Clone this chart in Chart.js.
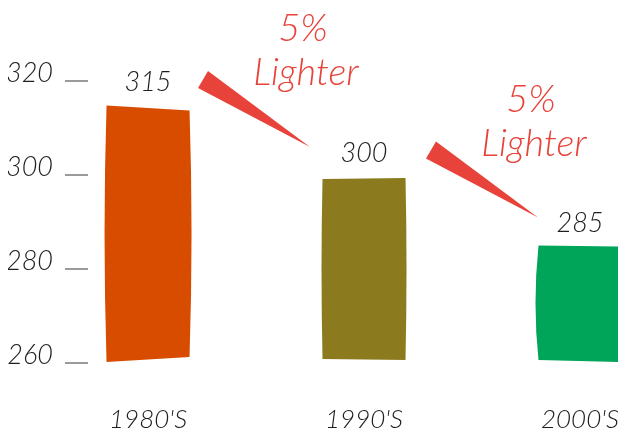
<!DOCTYPE html>
<html>
<head>
<meta charset="utf-8">
<script src="https://cdn.jsdelivr.net/npm/chart.js@4"></script>
<style>
  html, body { margin: 0; padding: 0; background: #fff; }
  #wrap { width: 618px; height: 439px; }
</style>
</head>
<body>
<div id="wrap"><canvas id="chart"></canvas></div>
<script>
// data
const categories = ["1980'S", "1990'S", "2000'S"];
const weights = [315, 300, 285];
const yTicks = [260, 280, 300, 320];
const noteLines = ['5%', 'Lighter'];   // drawn between each pair of decades

// styles
const barColors = ['#d84c00', '#8b7b1e', '#00a55a'];
const noteColor = '#e8433a';
const inkColor = '#1e1e1e';
const handFont = '"Lato", "Open Sans", sans-serif';
// hand-drawn feel: [top-left dy, top-right dy, bottom-left dy, bottom-right dy, left bow, right bow]
const wobble = [
    [1, 6, 0, -5, -2, 2],
    [4, 3, -3, -2, -1, 1],
    [0, 1, -2, 0, -3, 1]
];
// per note nudge in px
const noteShift = [-6, 6];

const handBars = {
    id: 'handBars',
    beforeDatasetsDraw(chart) {
        const ctx = chart.ctx;
        const meta = chart.getDatasetMeta(0);
        meta.data.forEach((bar, i) => {
            const w = wobble[i];
            const l = bar.x - bar.width / 2;
            const r = bar.x + bar.width / 2;
            const midY = (bar.y + bar.base) / 2;
            ctx.save();
            ctx.fillStyle = barColors[i];
            ctx.beginPath();
            ctx.moveTo(l, bar.y + w[0]);
            ctx.lineTo(r, bar.y + w[1]);
            ctx.quadraticCurveTo(r + w[5] * 2, midY, r, bar.base + w[3]);
            ctx.lineTo(l, bar.base + w[2]);
            ctx.quadraticCurveTo(l + w[4] * 2, midY, l, bar.y + w[0]);
            ctx.closePath();
            ctx.fill();

            // value above the bar
            ctx.fillStyle = inkColor;
            ctx.font = 'italic 300 27px ' + handFont;
            ctx.textAlign = 'center';
            ctx.textBaseline = 'middle';
            ctx.fillText(String(weights[i]), bar.x, bar.y - 22);
            ctx.restore();
        });
        return false;
    },
    afterDraw(chart) {
        const ctx = chart.ctx;
        const meta = chart.getDatasetMeta(0);
        for (let i = 1; i < meta.data.length; i++) {
            const bar = meta.data[i];
            const sx = bar.x + noteShift[i - 1];
            const y = bar.y;
            ctx.save();
            ctx.fillStyle = noteColor;
            // wedge pointing at the next decade
            ctx.beginPath();
            ctx.moveTo(sx - 160, y - 87);
            ctx.lineTo(sx - 150, y - 104);
            ctx.lineTo(sx - 48, y - 28);
            ctx.closePath();
            ctx.fill();

            ctx.font = 'italic 300 38px ' + handFont;
            ctx.textAlign = 'center';
            ctx.textBaseline = 'middle';
            ctx.fillText(noteLines[0], sx - 55, y - 146);
            ctx.fillText(noteLines[1], sx - 52, y - 102);
            ctx.restore();
        }
    }
};

new Chart(document.getElementById('chart'), {
    type: 'bar',
    data: {
        datasets: [{
            data: weights.map((v, i) => ({ x: i, y: v })),
            backgroundColor: barColors,
            base: yTicks[0],
            barThickness: 83
        }]
    },
    options: {
        responsive: true,
        maintainAspectRatio: false,
        animation: false,
        layout: { padding: { top: 81, left: 8, right: 0, bottom: 4 } },
        plugins: {
            legend: { display: false },
            tooltip: { enabled: false }
        },
        scales: {
            x: {
                type: 'linear',
                offset: false,
                min: -0.278,
                max: 2.176,
                afterBuildTicks: s => { s.ticks = categories.map((c, i) => ({ value: i })); },
                afterFit: s => { s.height = 72; s.paddingLeft = 0; s.paddingRight = 0; },
                grid: { display: false, drawTicks: false, offset: false },
                border: { display: false },
                ticks: {
                    padding: 41,
                    maxRotation: 0,
                    autoSkip: false,
                    color: inkColor,
                    font: { family: handFont, size: 26, style: 'italic', weight: 300 },
                    callback: v => categories[v]
                }
            },
            y: {
                min: yTicks[0],
                max: yTicks[yTicks.length - 1],
                afterBuildTicks: s => { s.ticks = yTicks.map(v => ({ value: v })); },
                afterFit: s => { s.width = 80; },
                grid: {
                    drawOnChartArea: false,
                    drawTicks: true,
                    tickLength: 23,
                    color: '#9a9a9a',
                    lineWidth: 2
                },
                border: { display: false },
                ticks: {
                    padding: 12,
                    labelOffset: -8,
                    color: inkColor,
                    font: { family: handFont, size: 27, style: 'italic', weight: 300 }
                }
            }
        }
    },
    plugins: [handBars]
});
</script>
</body>
</html>
